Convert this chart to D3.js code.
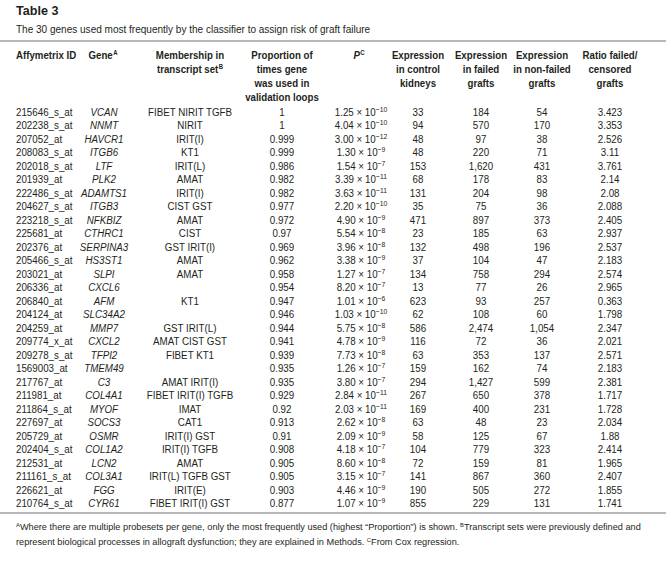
<!DOCTYPE html>
<html>
<head>
<meta charset="utf-8">
<script src="https://cdn.jsdelivr.net/npm/d3@7"></script>
<style>
  html, body { margin: 0; padding: 0; background: #fff; }
  svg { display: block; }
  text { font-family: "Liberation Sans", Arial, Helvetica, sans-serif; }
</style>
</head>
<body>
<svg id="chart" width="667" height="586"></svg>
<script>
// ---------- DATA ----------
const affyIds = ["215646_s_at","202238_s_at","207052_at","208083_s_at","202018_s_at","201939_at","222486_s_at","204627_s_at","223218_s_at","225681_at","202376_at","205466_s_at","203021_at","206336_at","206840_at","204124_at","204259_at","209774_x_at","209278_s_at","1569003_at","217767_at","211981_at","211864_s_at","227697_at","205729_at","202404_s_at","212531_at","211161_s_at","226621_at","210764_s_at"];
const genes = ["VCAN","NNMT","HAVCR1","ITGB6","LTF","PLK2","ADAMTS1","ITGB3","NFKBIZ","CTHRC1","SERPINA3","HS3ST1","SLPI","CXCL6","AFM","SLC34A2","MMP7","CXCL2","TFPI2","TMEM49","C3","COL4A1","MYOF","SOCS3","OSMR","COL1A2","LCN2","COL3A1","FGG","CYR61"];
const transcriptSets = ["FIBET NIRIT TGFB","NIRIT","IRIT(I)","KT1","IRIT(L)","AMAT","IRIT(I)","CIST GST","AMAT","CIST","GST IRIT(I)","AMAT","AMAT","","KT1","","GST IRIT(L)","AMAT CIST GST","FIBET KT1","","AMAT IRIT(I)","FIBET IRIT(I) TGFB","IMAT","CAT1","IRIT(I) GST","IRIT(I) TGFB","AMAT","IRIT(L) TGFB GST","IRIT(E)","FIBET IRIT(I) GST"];
const proportions = [1,1,0.999,0.999,0.986,0.982,0.982,0.977,0.972,0.97,0.969,0.962,0.958,0.954,0.947,0.946,0.944,0.941,0.939,0.935,0.935,0.929,0.92,0.913,0.91,0.908,0.905,0.905,0.903,0.877];
const pMantissa = [1.25,4.04,3.00,1.30,1.54,3.39,3.63,2.20,4.90,5.54,3.96,3.38,1.27,8.20,1.01,1.03,5.75,4.78,7.73,1.26,3.80,2.84,2.03,2.62,2.09,4.18,8.60,3.15,4.46,1.07];
const pExponent = [-10,-10,-12,-9,-7,-11,-11,-10,-9,-8,-8,-9,-7,-7,-6,-10,-8,-9,-8,-7,-7,-11,-11,-8,-9,-7,-8,-7,-9,-9];
const exprControl = [33,94,48,48,153,68,131,35,471,23,132,37,134,13,623,62,586,116,63,159,294,267,169,63,58,104,72,141,190,855];
const exprFailed = [184,570,97,220,1620,178,204,75,897,185,498,104,758,77,93,108,2474,72,353,162,1427,650,400,48,125,779,159,867,505,229];
const exprNonFailed = [54,170,38,71,431,83,98,36,373,63,196,47,294,26,257,60,1054,36,137,74,599,378,231,23,67,323,81,360,272,131];
const ratios = [3.423,3.353,2.526,3.11,3.761,2.14,2.08,2.088,2.405,2.937,2.537,2.183,2.574,2.965,0.363,1.798,2.347,2.021,2.571,2.183,2.381,1.717,1.728,2.034,1.88,2.414,1.965,2.407,1.855,1.741];

const columnKeys = ["id","gene","set","prop","p","control","failed","nonfailed","ratio"];
const headerLines = [
  ["Affymetrix ID"],
  ["Gene"],
  ["Membership in","transcript set"],
  ["Proportion of","times gene","was used in","validation loops"],
  ["P"],
  ["Expression","in control","kidneys"],
  ["Expression","in failed","grafts"],
  ["Expression","in non-failed","grafts"],
  ["Ratio failed/","censored","grafts"]
];
const headerSups = ["", "A", "B", "", "C", "", "", "", ""];
const titleText = "Table 3";
const subtitleText = "The 30 genes used most frequently by the classifier to assign risk of graft failure";
const footLine1 = [["A",true],["Where there are multiple probesets per gene, only the most frequently used (highest \u201CProportion\u201D) is shown. ",false],["B",true],["Transcript sets were previously defined and",false]];
const footLine2 = [["represent biological processes in allograft dysfunction; they are explained in Methods. ",false],["C",true],["From Cox regression.",false]];

// ---------- LAYOUT ----------
const svg = d3.select("#chart");
const textColor = "#231f20";
const ruleColor = "#a0a0a0";
const sx = 0.85; // condensed face emulation

const x = d3.scaleOrdinal()
  .domain(columnKeys)
  .range([16, 104, 190, 282, 361, 418, 481, 542, 610]);
const headerX = d3.scaleOrdinal()
  .domain(columnKeys)
  .range([16, 103, 190, 282, 359, 418, 481, 542, 610]);
const nx = v => v / sx;

const rows = d3.range(affyIds.length);
const y = d3.scalePoint().domain(rows).range([116, 507]);

// title
svg.append("text").attr("x",16).attr("y",15)
  .attr("font-size",12.6).attr("font-weight","bold").attr("fill",textColor).text(titleText);

const narrow = svg.append("g").attr("transform", `scale(${sx},1)`).attr("fill", textColor);
narrow.append("text").attr("x",nx(16)).attr("y",33)
  .attr("font-size",11.8).text(subtitleText);

// rules
svg.append("line").attr("x1",0).attr("x2",666).attr("y1",41).attr("y2",41)
  .attr("stroke",ruleColor).attr("stroke-width",1.6);
svg.append("line").attr("x1",0).attr("x2",666).attr("y1",513).attr("y2",513)
  .attr("stroke",ruleColor).attr("stroke-width",1.6);

// header
const hdr = narrow.append("g").attr("font-size",11.4).attr("font-weight","bold");
columnKeys.forEach((k, ci) => {
  const t = hdr.append("text")
    .attr("x", nx(headerX(k)))
    .attr("y", 59)
    .attr("text-anchor", k === "id" ? "start" : "middle");
  headerLines[ci].forEach((line, li) => {
    const ts = t.append("tspan").attr("x", nx(headerX(k))).attr("y", 59 + li * 14);
    if (k === "p") ts.attr("font-style","italic");
    ts.text(line);
  });
  if (headerSups[ci]) {
    t.append("tspan").attr("font-size",7).attr("font-style","normal")
      .attr("dx", 0.5).attr("dy",-4).text(headerSups[ci]);
  }
});

// body
const fmtInt = d3.format(",");
const fmtMant = d3.format(".2f");
const body = narrow.append("g").attr("font-size",11.5);

const rowG = body.selectAll("g.row").data(rows).join("g").attr("class","row")
  .attr("transform", i => `translate(0,${y(i)})`);

rowG.append("text").attr("x", nx(x("id"))).text(i => affyIds[i]);
rowG.append("text").attr("x", nx(x("gene"))).attr("text-anchor","middle").attr("font-style","italic").text(i => genes[i]);
rowG.append("text").attr("x", nx(x("set"))).attr("text-anchor","middle").text(i => transcriptSets[i]);
rowG.append("text").attr("x", nx(x("prop"))).attr("text-anchor","middle").text(i => String(proportions[i]));
const pt = rowG.append("text").attr("x", nx(x("p"))).attr("text-anchor","middle");
pt.append("tspan").text(i => fmtMant(pMantissa[i]) + " \u00D7 10");
pt.append("tspan").attr("font-size",8).attr("dy",-4).text(i => "\u2212" + Math.abs(pExponent[i]));
rowG.append("text").attr("x", nx(x("control"))).attr("text-anchor","middle").text(i => fmtInt(exprControl[i]));
rowG.append("text").attr("x", nx(x("failed"))).attr("text-anchor","middle").text(i => fmtInt(exprFailed[i]));
rowG.append("text").attr("x", nx(x("nonfailed"))).attr("text-anchor","middle").text(i => fmtInt(exprNonFailed[i]));
rowG.append("text").attr("x", nx(x("ratio"))).attr("text-anchor","middle").text(i => String(ratios[i]));

// footnotes
const foot = svg.append("g").attr("font-size",9.2).attr("fill",textColor);
[[footLine1, 529.5], [footLine2, 544.5]].forEach(([parts, yy]) => {
  const t = foot.append("text").attr("x",16).attr("y",yy);
  parts.forEach(([s, sup]) => {
    if (sup) t.append("tspan").attr("font-size",5.8).attr("y", yy - 3).text(s);
    else t.append("tspan").attr("y", yy).text(s);
  });
});
</script>
</body>
</html>
